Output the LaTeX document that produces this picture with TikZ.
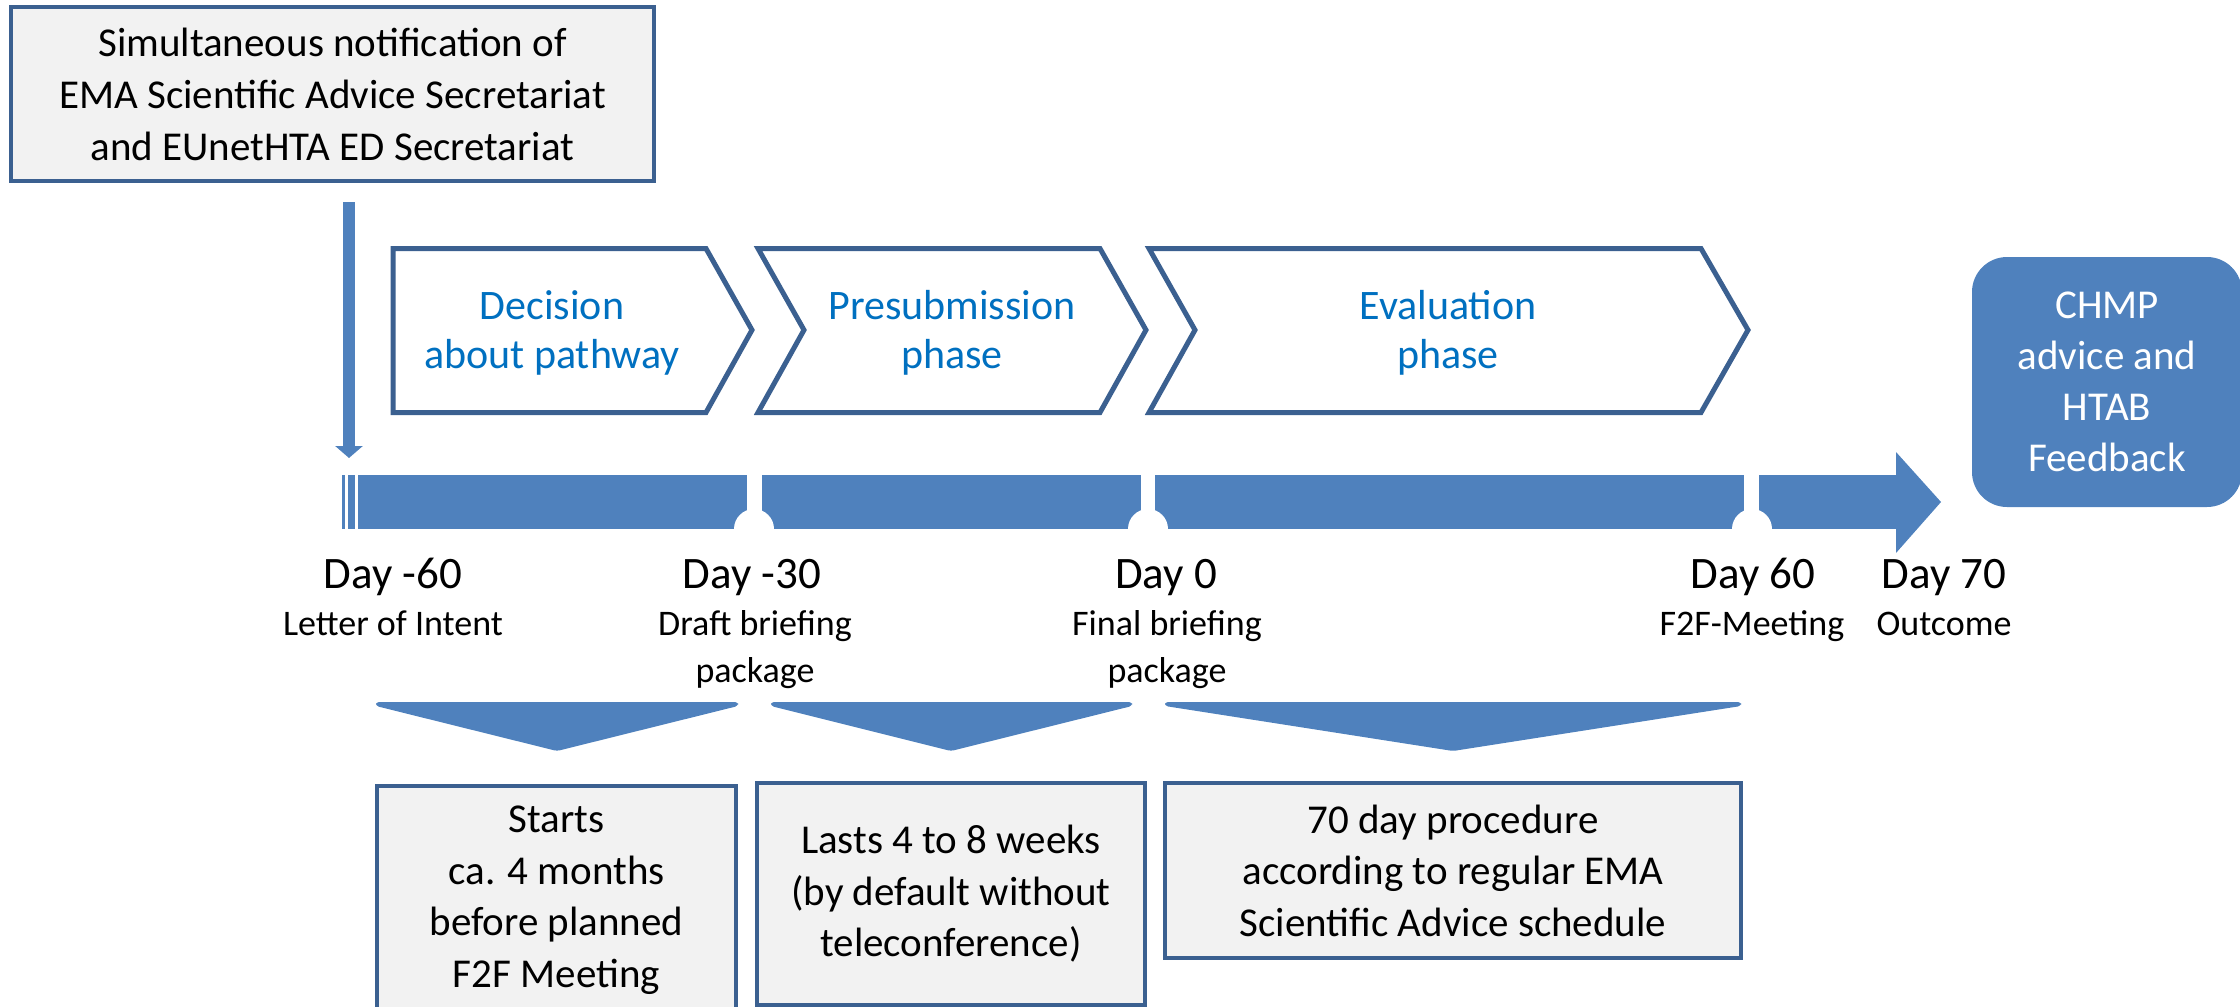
\documentclass[tikz,border=0pt]{standalone}
\usepackage{fontspec}
\setmainfont{Carlito}
\usetikzlibrary{arrows.meta}
\definecolor{barblue}{HTML}{4F81BD}
\definecolor{edgeblue}{HTML}{3B6090}
\definecolor{txtblue}{HTML}{0070C0}
\definecolor{boxgray}{HTML}{F2F2F2}
\tikzset{
  graybox/.style={draw=edgeblue, line width=2pt, fill=boxgray, inner sep=0pt, align=center, font=\fontsize{20.5}{25.75}\selectfont},
  phase/.style={draw=edgeblue, line width=2.5pt, fill=white, line join=miter},
  phasetext/.style={text=txtblue, align=center, inner sep=0pt, font=\fontsize{21}{24.5}\selectfont},
  barpart/.style={fill=barblue, draw=none},
  notch/.style={fill=white, draw=none},
  daylabel/.style={anchor=base, inner sep=0pt, font=\fontsize{22.5}{27}\selectfont},
  sublabel/.style={anchor=base, inner sep=0pt, align=center, font=\fontsize{18}{23.5}\selectfont},
  downtri/.style={fill=barblue, draw=none, rounded corners=1.5pt},
  resultbox/.style={fill=barblue, draw=none, rounded corners=17.5pt, text=white, align=center, inner sep=0pt, font=\fontsize{20.5}{25.5}\selectfont},
  flowarrow/.style={draw=barblue, line width=6pt, -{Triangle[width=13.5pt,length=6pt]}}
}
\begin{document}
\begin{tikzpicture}[x=0.5pt,y=-0.5pt]
\useasboundingbox (0,0) rectangle (2240,1007);
\clip (0,0) rectangle (2240,1007);

% top notification box
\node[graybox, minimum width=321.5pt, minimum height=87pt, font=\fontsize{20.5}{26}\selectfont] (notif) at (332.5,94)
  {Simultaneous notification of\\EMA Scientific Advice Secretariat\\and EUnetHTA ED Secretariat};

% down arrow
\coordinate (arrS) at (349,202);
\coordinate (arrE) at (349,458);
\draw[flowarrow] (arrS) -- (arrE);

% phase chevrons
\draw[phase] (393,248.5) -- (706,248.5) -- (752,330) -- (706,412.5) -- (393,412.5) -- cycle;
\draw[phase] (758,248.5) -- (1100,248.5) -- (1146,330) -- (1100,412.5) -- (758,412.5) -- (804,330) -- cycle;
\draw[phase] (1149,248.5) -- (1701,248.5) -- (1748,330) -- (1701,412.5) -- (1149,412.5) -- (1195,330) -- cycle;
\node[phasetext] (ph1) at (552,333) {Decision\\about pathway};
\node[phasetext] (ph2) at (952,333) {Presubmission\\phase};
\node[phasetext] (ph3) at (1448,333) {Evaluation\\phase};

% timeline bar
\fill[barpart] (342,475) rectangle (345,529);
\fill[barpart] (348,475) rectangle (355,529);
\fill[barpart] (358,475) rectangle (747,529);
\fill[barpart] (762,475) rectangle (1141,529);
\fill[barpart] (1155,475) rectangle (1744,529);
\fill[barpart] (1759,475) rectangle (1896,529);
\fill[barpart] (1896,452) -- (1941,502) -- (1896,553) -- cycle;
\fill[notch] (754,529) circle[radius=20];
\fill[notch] (1148,529) circle[radius=20];
\fill[notch] (1752,529) circle[radius=20];

% day labels
\node[daylabel] (d1) at (393,588) {Day -60};
\node[daylabel] (d2) at (752,588) {Day -30};
\node[daylabel] (d3) at (1166,588) {Day 0};
\node[daylabel] (d4) at (1753,588) {Day 60};
\node[daylabel] (d5) at (1944,588) {Day 70};
\node[sublabel] (s1) at (393,635) {Letter of Intent};
\node[sublabel] (s2) at (755,682) {Draft briefing\\package};
\node[sublabel] (s3) at (1167,682) {Final briefing\\package};
\node[sublabel] (s4) at (1752,635) {F2F-Meeting};
\node[sublabel] (s5) at (1944,635) {Outcome};

% result box
\node[resultbox, minimum width=135pt, minimum height=125pt] (res) at (2107,382)
  {CHMP\\advice and\\HTAB\\Feedback};

% down triangles
\fill[downtri] (376,702) -- (738,702) -- (738,706) -- (557,751) -- (376,706) -- cycle;
\fill[downtri] (771,702) -- (1132,702) -- (1132,706) -- (951,751) -- (771,706) -- cycle;
\fill[downtri] (1165,702) -- (1741,702) -- (1741,706) -- (1453,751) -- (1165,706) -- cycle;

% bottom boxes
\node[graybox, minimum width=179.5pt, minimum height=114pt] (b1) at (556.5,900)
  {Starts\\ca. 4 months\\before planned\\F2F Meeting};
\node[graybox, minimum width=194pt, minimum height=111pt] (b2) at (951,894)
  {Lasts 4 to 8 weeks\\(by default without\\teleconference)};
\node[graybox, minimum width=288pt, minimum height=87.5pt] (b3) at (1453,870.5)
  {70 day procedure\\according to regular EMA\\Scientific Advice schedule};
\end{tikzpicture}
\end{document}
